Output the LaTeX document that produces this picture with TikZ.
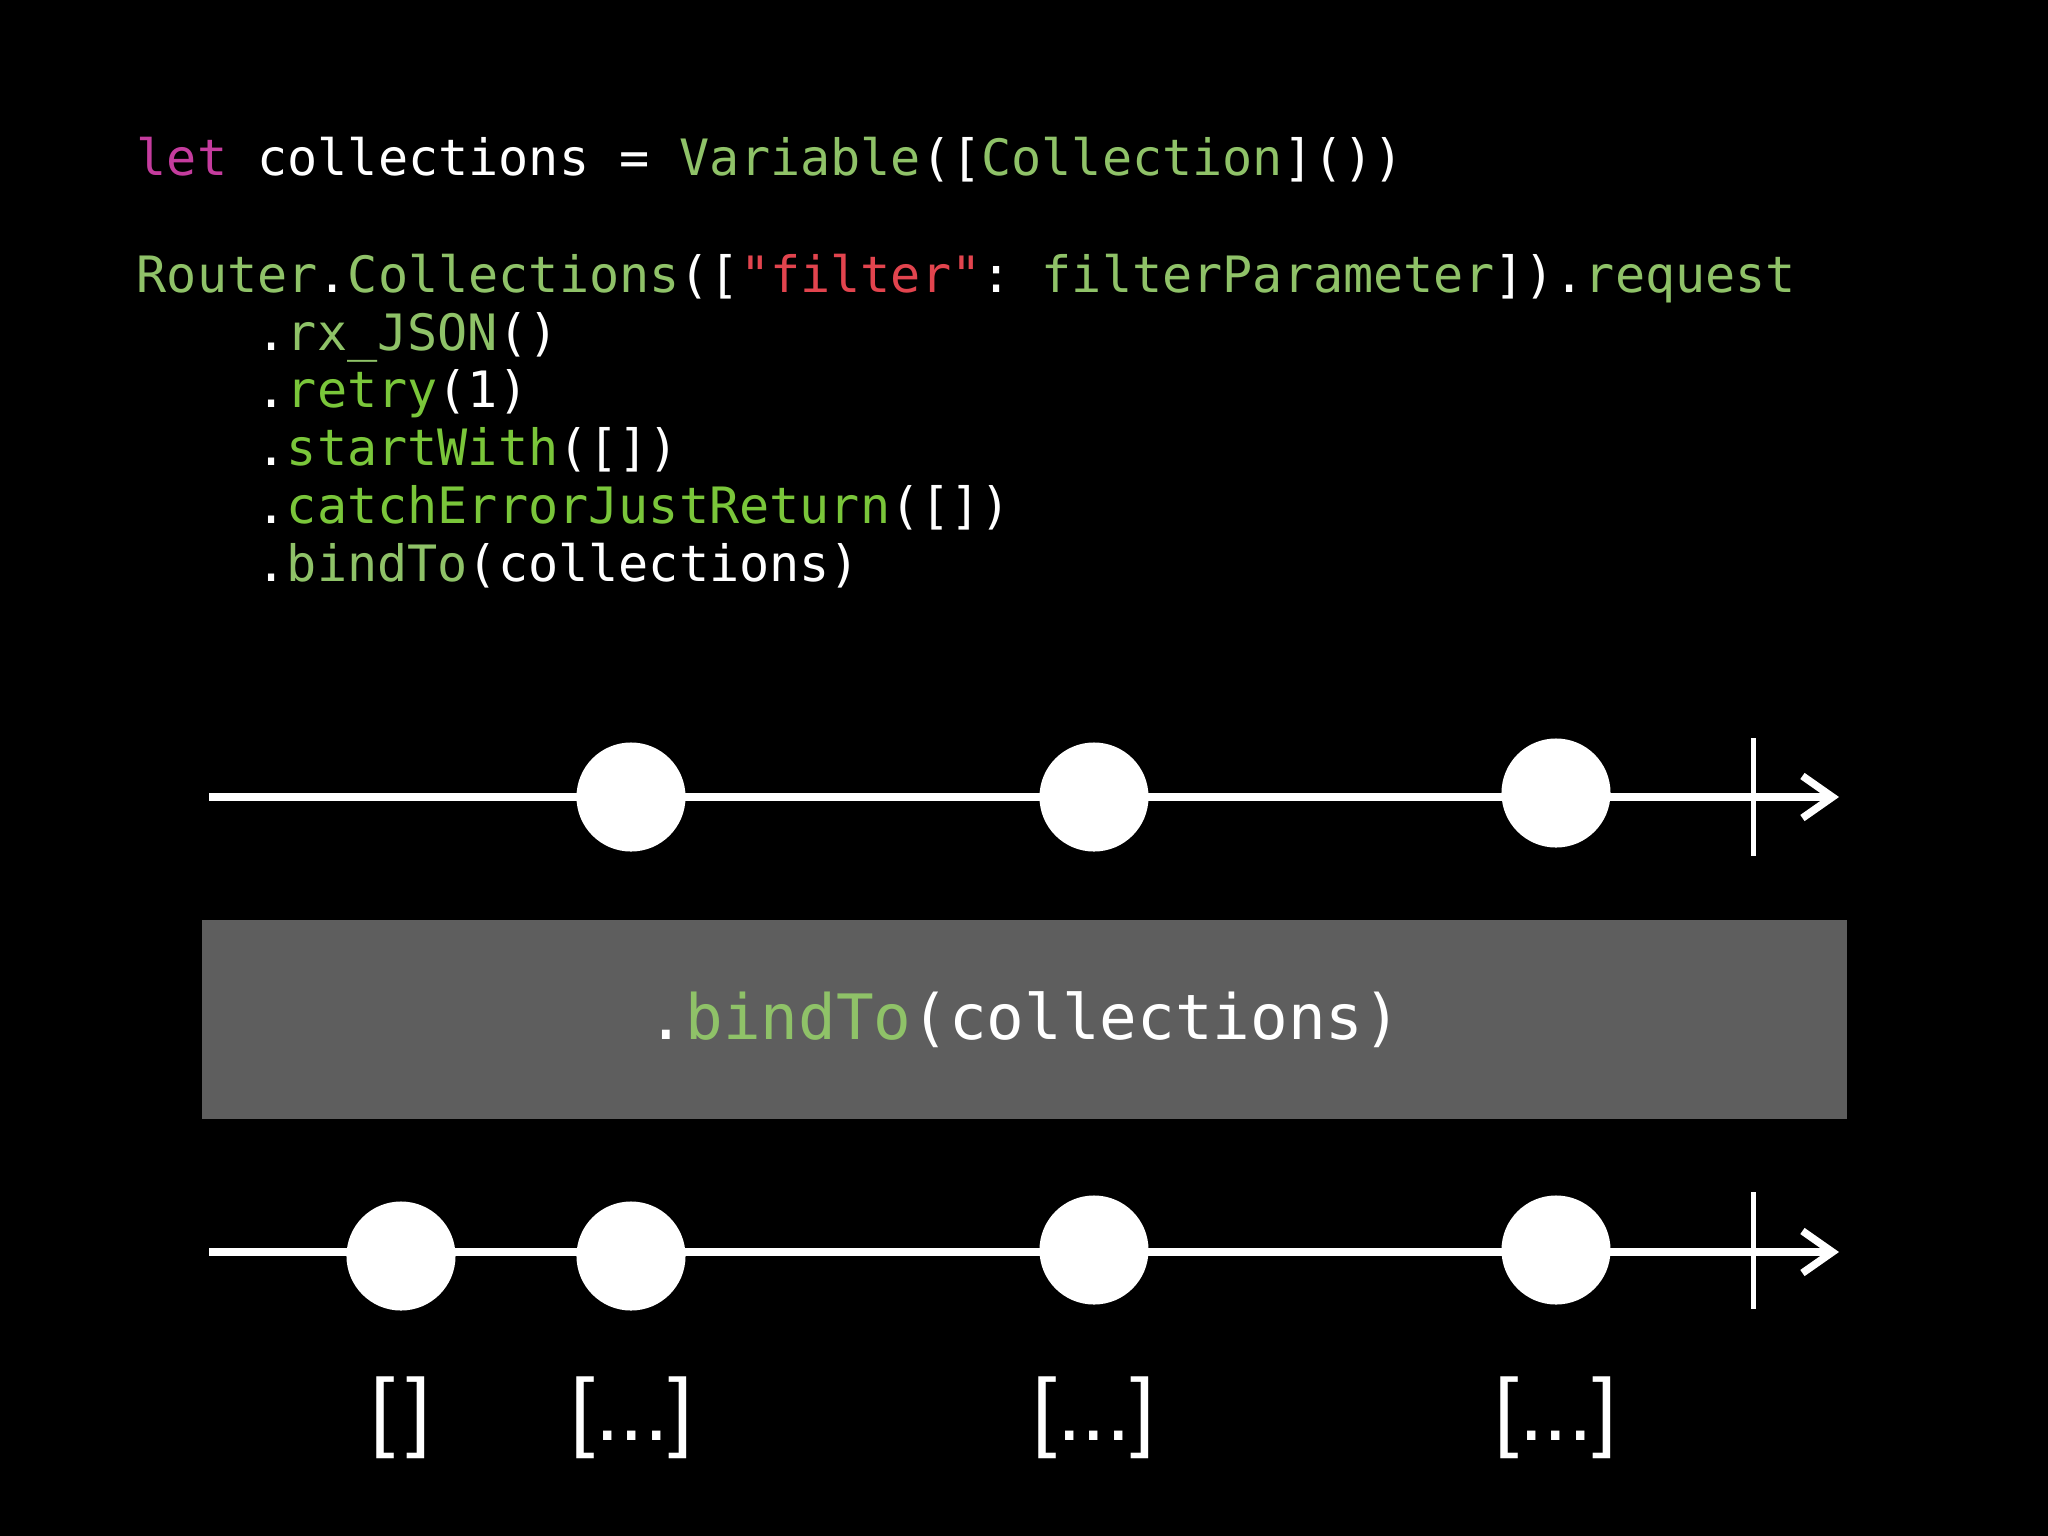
\documentclass[tikz,border=0pt]{standalone}
\usepackage{fontspec}
\usetikzlibrary{arrows.meta}
\newfontfamily\codefont[Ligatures=TeXOff]{DejaVu Sans Mono}
\newfontfamily\labelfont{Liberation Sans}
\definecolor{kwpink}{RGB}{197,60,158}
\definecolor{typgreen}{RGB}{143,194,104}
\definecolor{mthgreen}{RGB}{122,198,58}
\definecolor{strred}{RGB}{226,68,78}
\definecolor{opgray}{RGB}{94,94,94}
\newcommand{\kwd}[1]{\textcolor{kwpink}{#1}}
\newcommand{\typ}[1]{\textcolor{typgreen}{#1}}
\newcommand{\mth}[1]{\textcolor{mthgreen}{#1}}
\newcommand{\strlit}[1]{\textcolor{strred}{#1}}
\begin{document}
\frenchspacing
\begin{tikzpicture}[x=0.01cm,y=-0.01cm,>={Straight Barb[length=3mm,width=4.2mm]},
  code/.style={anchor=base west,inner sep=0pt,text=white,font=\codefont\fontsize{14.25}{16}\selectfont},
  marble/.style={circle,fill=white,minimum size=1.09cm,inner sep=0pt},
  axis/.style={white,line width=0.75mm},
  stop/.style={white,line width=0.5mm},
  opbox/.style={fill=opgray,minimum width=16.45cm,minimum height=1.99cm,inner sep=0pt,text=white,font=\codefont\fontsize{17.8}{20}\selectfont},
  lab/.style={anchor=base,inner sep=0pt,text=white,font=\labelfont\fontsize{25}{28}\selectfont}]
  \fill[black] (0,0) rectangle (2048,1536);
  % code
  \node[code] (c1) at (136,175) {\kwd{let} collections = \typ{Variable}([\typ{Collection}]())};
  \node[code] (c2) at (136,292) {\typ{Router}.\typ{Collections}([\strlit{"filter"}: \typ{filterParameter}]).\typ{request}};
  \node[code] (c3) at (256,350) {.\typ{rx\_JSON}()};
  \node[code] (c4) at (256,407) {.\mth{retry}(1)};
  \node[code] (c5) at (256,465) {.\mth{startWith}([])};
  \node[code] (c6) at (256,523) {.\mth{catchErrorJustReturn}([])};
  \node[code] (c7) at (256,581) {.\typ{bindTo}(collections)};
  % source stream
  \coordinate (s1) at (209,797);
  \coordinate (e1) at (1839,797);
  \coordinate (k1a) at (1753,738);
  \coordinate (k1b) at (1753,856);
  \draw[axis,->] (s1) -- (e1);
  \draw[stop] (k1a) -- (k1b);
  \node[marble] (a1) at (631,797) {};
  \node[marble] (a2) at (1094,797) {};
  \node[marble] (a3) at (1556,793) {};
  % operator
  \node[opbox] (op) at (1024.5,1019.5) {\raisebox{-0.05cm}{.\typ{bindTo}(collections)}};
  % result stream
  \coordinate (s2) at (209,1252);
  \coordinate (e2) at (1839,1252);
  \coordinate (k2a) at (1753,1192);
  \coordinate (k2b) at (1753,1309);
  \draw[axis,->] (s2) -- (e2);
  \draw[stop] (k2a) -- (k2b);
  \node[marble] (b0) at (401,1256) {};
  \node[marble] (b1) at (631,1256) {};
  \node[marble] (b2) at (1094,1250) {};
  \node[marble] (b3) at (1556,1250) {};
  \node[lab] (v0) at (401,1440) {[\hspace{0.12cm}]};
  \node[lab] (v1) at (632,1440) {[...]};
  \node[lab] (v2) at (1094,1440) {[...]};
  \node[lab] (v3) at (1556,1440) {[...]};
\end{tikzpicture}
\end{document}
